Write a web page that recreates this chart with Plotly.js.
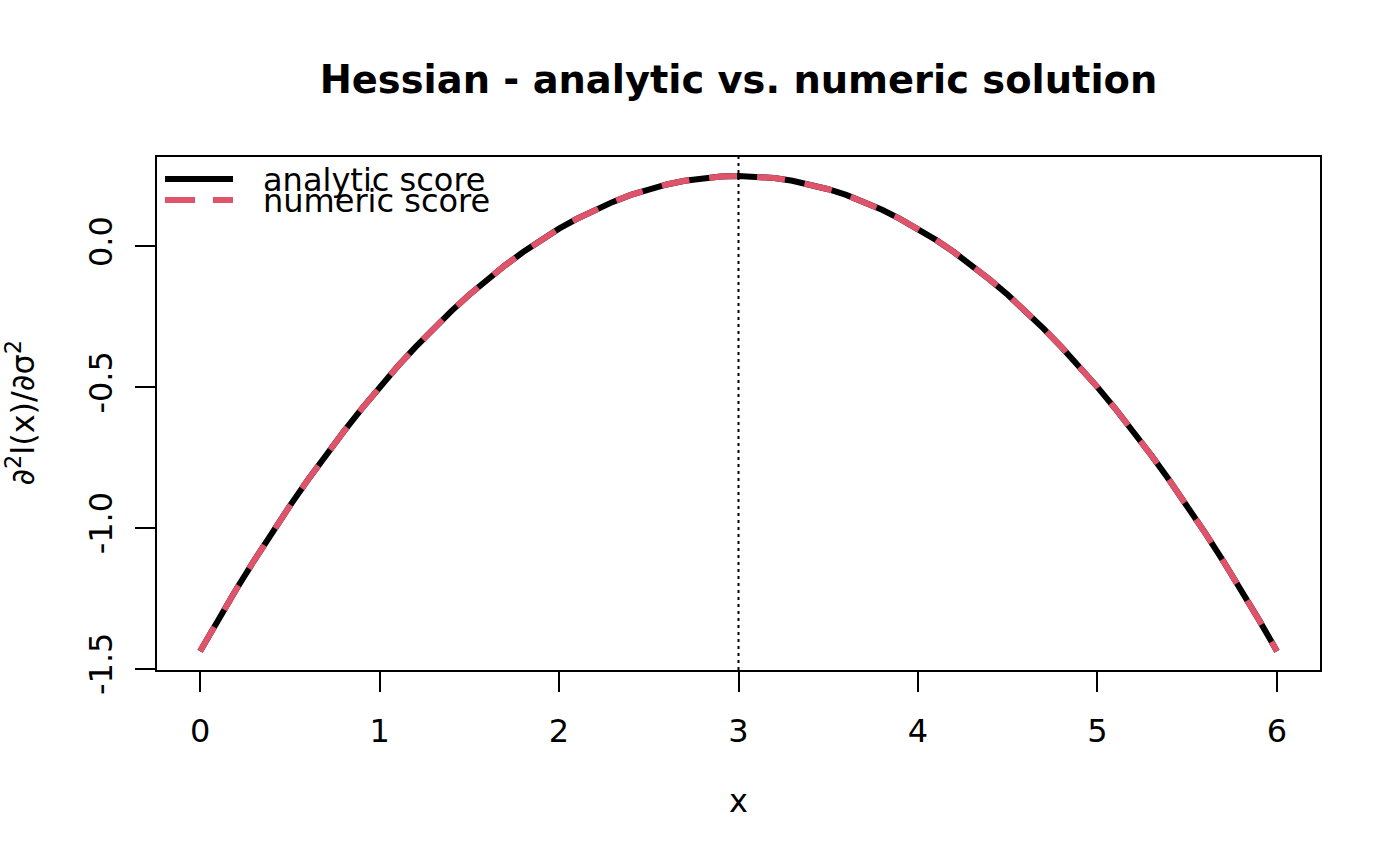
<!DOCTYPE html>
<html>
<head>
<meta charset="utf-8">
<script src="https://cdn.plot.ly/plotly-3.0.1.min.js"></script>
<style>html,body{margin:0;padding:0;background:#fff;}#chart{width:1400px;height:866px;}</style>
</head>
<body>
<div id="chart"></div>
<script>
// Values
var xValues = [0,0.1,0.2,0.3,0.4,0.5,0.6,0.7,0.8,0.9,1.0,1.1,1.2,1.3,1.4,1.5,1.6,1.7,1.8,1.9,2.0,2.1,2.2,2.3,2.4,2.5,2.6,2.7,2.8,2.9,3.0,
               3.1,3.2,3.3,3.4,3.5,3.6,3.7,3.8,3.9,4.0,4.1,4.2,4.3,4.4,4.5,4.6,4.7,4.8,4.9,5.0,5.1,5.2,5.3,5.4,5.5,5.6,5.7,5.8,5.9,6.0];
var analyticScore = [-1.438,-1.327,-1.220,-1.117,-1.018,-0.922,-0.830,-0.742,-0.658,-0.577,-0.500,-0.427,-0.358,-0.292,-0.230,-0.172,-0.118,-0.067,-0.020,0.023,0.063,0.098,0.130,0.158,0.183,0.203,0.220,0.233,0.243,0.248,0.250,
                     0.248,0.243,0.233,0.220,0.203,0.183,0.158,0.130,0.098,0.063,0.023,-0.020,-0.067,-0.118,-0.172,-0.230,-0.292,-0.358,-0.427,-0.500,-0.577,-0.658,-0.742,-0.830,-0.922,-1.018,-1.117,-1.220,-1.327,-1.438];
var numericScore = [-1.438,-1.327,-1.220,-1.117,-1.018,-0.922,-0.830,-0.742,-0.658,-0.577,-0.500,-0.427,-0.358,-0.292,-0.230,-0.172,-0.118,-0.067,-0.020,0.023,0.063,0.098,0.130,0.158,0.183,0.203,0.220,0.233,0.243,0.248,0.250,
                    0.248,0.243,0.233,0.220,0.203,0.183,0.158,0.130,0.098,0.063,0.023,-0.020,-0.067,-0.118,-0.172,-0.230,-0.292,-0.358,-0.427,-0.500,-0.577,-0.658,-0.742,-0.830,-0.922,-1.018,-1.117,-1.220,-1.327,-1.438];
var xTicks = [0,1,2,3,4,5,6];
var yTicks = [-1.5,-1.0,-0.5,0.0];
var yTickLabels = ['-1.5','-1.0','-0.5','0.0'];
var modeX = 3;
var seriesNames = ['analytic score','numeric score'];
var seriesColors = ['#000000','#DF536B'];

var W = 1400, H = 866;
var L = 157, R = 80, T = 157, B = 196;
var pw = W - L - R, ph = H - T - B;
function px2paperX(p){ return (p - L) / pw; }
function px2paperY(p){ return (H - B - p) / ph; }

var traces = [
  {x: xValues, y: analyticScore, type: 'scatter', mode: 'lines', name: seriesNames[0],
   line: {color: seriesColors[0], width: 6}, showlegend: false, hoverinfo: 'skip'},
  {x: xValues, y: numericScore, type: 'scatter', mode: 'lines', name: seriesNames[1],
   line: {color: seriesColors[1], width: 6, dash: '28px,20px'}, showlegend: false, hoverinfo: 'skip'}
];

var font = {family: 'DejaVu Sans', size: 32, color: '#000'};

var layout = {
  width: W, height: H,
  margin: {l: L, r: R, t: T, b: B},
  paper_bgcolor: '#fff', plot_bgcolor: '#fff',
  font: font,
  showlegend: false,
  title: {text: '<b>Hessian - analytic vs. numeric solution</b>', font: {family: 'DejaVu Sans', size: 38.4, color: '#000'},
          x: 0.5, xref: 'paper', xanchor: 'center', y: 1 - 80/H, yref: 'container', yanchor: 'middle'},
  xaxis: {range: [-0.24, 6.24], tickvals: xTicks, ticktext: xTicks.map(String), ticks: 'outside', ticklen: 20, tickwidth: 2,
          tickcolor: '#000', showline: true, linecolor: '#000', linewidth: 2, mirror: true, showgrid: false, zeroline: false,
          tickfont: font, ticklabelstandoff: 12,
          title: {text: 'x', font: font, standoff: 40}},
  yaxis: {range: [-1.505, 0.3175], tickvals: yTicks, ticktext: yTickLabels, ticks: 'outside', ticklen: 20, tickwidth: 2,
          tickcolor: '#000', showline: true, linecolor: '#000', linewidth: 2, mirror: true, showgrid: false, zeroline: false,
          tickfont: font, tickangle: -90, ticklabelstandoff: 10},
  shapes: [
    {type: 'line', xref: 'x', yref: 'paper', x0: modeX, x1: modeX, y0: 0, y1: 1, line: {color: '#000', width: 2, dash: '3px,4px'}},
    {type: 'line', xref: 'paper', yref: 'paper', x0: px2paperX(165), x1: px2paperX(233), y0: px2paperY(179), y1: px2paperY(179),
     line: {color: seriesColors[0], width: 6}},
    {type: 'line', xref: 'paper', yref: 'paper', x0: px2paperX(165), x1: px2paperX(233), y0: px2paperY(200), y1: px2paperY(200),
     line: {color: seriesColors[1], width: 6, dash: '30px,18px'}}
  ],
  annotations: [
    {text: seriesNames[0], xref: 'paper', yref: 'paper', x: px2paperX(261), y: px2paperY(180), xanchor: 'left', yanchor: 'middle',
     showarrow: false, font: font},
    {text: seriesNames[1], xref: 'paper', yref: 'paper', x: px2paperX(261), y: px2paperY(201), xanchor: 'left', yanchor: 'middle',
     showarrow: false, font: font},
    {text: '∂<sup>2</sup>l(x)/∂σ<sup>2</sup>', xref: 'paper', yref: 'paper', x: px2paperX(20), y: 0.5, xanchor: 'center', yanchor: 'middle',
     textangle: -90, showarrow: false, font: font}
  ]
};

Plotly.newPlot('chart', traces, layout, {displayModeBar: false, staticPlot: true});
</script>
</body>
</html>
